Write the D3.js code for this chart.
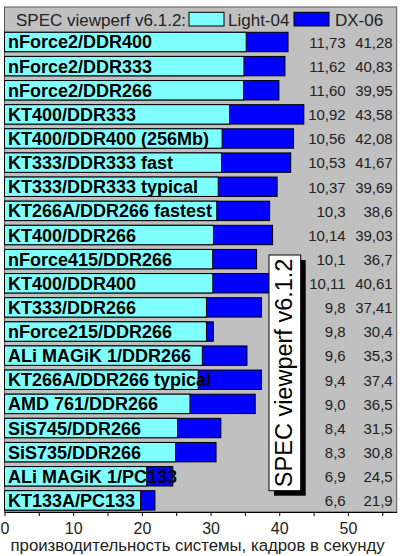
<!DOCTYPE html>
<html>
<head>
<meta charset="utf-8">
<script src="https://cdn.jsdelivr.net/npm/d3@7"></script>
<style>
  body { margin: 0; background: #fff; }
  text { font-family: "Liberation Sans", Arial, sans-serif; }
</style>
</head>
<body>
<div id="chart"></div>
<script>
// data as shown on the chart (comma decimals)
const systems = [
  "nForce2/DDR400", "nForce2/DDR333", "nForce2/DDR266", "KT400/DDR333",
  "KT400/DDR400 (256Mb)", "KT333/DDR333 fast", "KT333/DDR333 typical",
  "KT266A/DDR266 fastest", "KT400/DDR266", "nForce415/DDR266", "KT400/DDR400",
  "KT333/DDR266", "nForce215/DDR266", "ALi MAGiK 1/DDR266", "KT266A/DDR266 typical",
  "AMD 761/DDR266", "SiS745/DDR266", "SiS735/DDR266", "ALi MAGiK 1/PC133", "KT133A/PC133"
];
const light04 = ["11,73", "11,62", "11,60", "10,92", "10,56", "10,53", "10,37", "10,3", "10,14", "10,1",
  "10,11", "9,8", "9,8", "9,6", "9,4", "9,0", "8,4", "8,3", "6,9", "6,6"];
const dx06 = ["41,28", "40,83", "39,95", "43,58", "42,08", "41,67", "39,69", "38,6", "39,03", "36,7",
  "40,61", "37,41", "30,4", "35,3", "37,4", "36,5", "31,5", "30,8", "24,5", "21,9"];
const tickVals = [0, 5, 10, 15, 20, 25, 30, 35, 40, 45, 50, 55];
const seriesNames = ["Light-04", "DX-06"];
const xMax = 57.1;

const num = s => +s.replace(",", ".");
const rows = systems.map((name, i) => ({name: name, light: light04[i], dx: dx06[i]}));

const W = 400, H = 556;
const plot = {left: 4.5, right: 396.7, top: 7, bottom: 512};

const svg = d3.select("#chart").append("svg")
  .attr("width", W).attr("height", H);

const x = d3.scaleLinear().domain([0, xMax]).range([plot.left, plot.right]);
// Light-04 bars are drawn on a 3x stretched scale
const xLight = d3.scaleLinear().domain([0, xMax / 3]).range([plot.left, plot.right]);
const y = d3.scaleBand().domain(systems).range([32.3, 510.1])
  .paddingInner(0.196).paddingOuter(0);

// plot background
svg.append("rect")
  .attr("x", plot.left).attr("y", plot.top)
  .attr("width", plot.right - plot.left).attr("height", plot.bottom - plot.top)
  .attr("fill", "#c0c0c0").attr("stroke", "#555").attr("stroke-width", 1);

// legend
const lg = svg.append("g").attr("fill", "#222").attr("font-size", "17px");
lg.append("text").attr("x", 16).attr("y", 26).text("SPEC viewperf v6.1.2:");
lg.append("rect").attr("x", 189).attr("y", 12.3).attr("width", 35).attr("height", 13.7)
  .attr("fill", "#80ffff").attr("stroke", "#000");
lg.append("text").attr("x", 228).attr("y", 26).text(seriesNames[0]);
lg.append("rect").attr("x", 294).attr("y", 12.3).attr("width", 35).attr("height", 13.7)
  .attr("fill", "#0000ff").attr("stroke", "#000");
lg.append("text").attr("x", 335).attr("y", 26).text(seriesNames[1]);

// DX-06 bars (behind)
svg.append("g").selectAll("rect").data(rows).join("rect")
  .attr("x", x(0))
  .attr("y", d => y(d.name))
  .attr("width", d => x(num(d.dx)) - x(0))
  .attr("height", y.bandwidth())
  .attr("fill", "#0000ff").attr("stroke", "#000").attr("stroke-width", 1);

// Light-04 bars (front)
svg.append("g").selectAll("rect").data(rows).join("rect")
  .attr("x", xLight(0))
  .attr("y", d => y(d.name))
  .attr("width", d => xLight(num(d.light)) - xLight(0))
  .attr("height", y.bandwidth())
  .attr("fill", "#80ffff").attr("stroke", "#000").attr("stroke-width", 1);

// category labels inside bars
svg.append("g").selectAll("text").data(rows).join("text")
  .attr("x", 8)
  .attr("y", d => y(d.name) + y.bandwidth() / 2 + 6.5)
  .attr("font-size", "18px").attr("font-weight", "bold").attr("fill", "#000")
  .text(d => d.name);

// value columns
const vals = svg.append("g").attr("font-size", "15px").attr("fill", "#222").attr("text-anchor", "end");
vals.selectAll(".vl").data(rows).join("text").attr("class", "vl")
  .attr("x", 345.7)
  .attr("y", d => y(d.name) + y.bandwidth() / 2 + 5.8)
  .text(d => d.light);
vals.selectAll(".vd").data(rows).join("text").attr("class", "vd")
  .attr("x", 392.7)
  .attr("y", d => y(d.name) + y.bandwidth() / 2 + 5.8)
  .text(d => d.dx);

// callout
const co = {x: 269, y: 255, w: 31.7, h: 235.7};
svg.append("rect").attr("x", co.x + 5).attr("y", co.y + 5)
  .attr("width", co.w).attr("height", co.h).attr("fill", "#000");
svg.append("rect").attr("x", co.x).attr("y", co.y)
  .attr("width", co.w).attr("height", co.h).attr("fill", "#fff").attr("stroke", "#000");
svg.append("text")
  .attr("transform", `translate(${co.x + 23},${co.y + co.h / 2}) rotate(-90)`)
  .attr("text-anchor", "middle").attr("font-size", "23.5px").attr("fill", "#000")
  .text("SPEC viewperf v6.1.2");

// x axis
const xAxis = d3.axisBottom(x)
  .tickValues(tickVals)
  .tickSize(4)
  .tickSizeOuter(0)
  .tickFormat(d => d % 10 === 0 ? d : "");
const ax = svg.append("g").attr("transform", `translate(0,${plot.bottom})`).call(xAxis);
ax.select(".domain").attr("stroke", "#000");
ax.selectAll(".tick line").attr("stroke", "#000");
ax.selectAll(".tick text")
  .attr("font-size", "16px").attr("font-family", null).attr("fill", "#222")
  .attr("y", 10).attr("dy", "0.72em");

svg.append("text")
  .attr("x", (plot.left + plot.right) / 2 - 3).attr("y", 551)
  .attr("text-anchor", "middle").attr("font-size", "16.8px").attr("fill", "#222")
  .text("производительность системы, кадров в секунду");
</script>
</body>
</html>
